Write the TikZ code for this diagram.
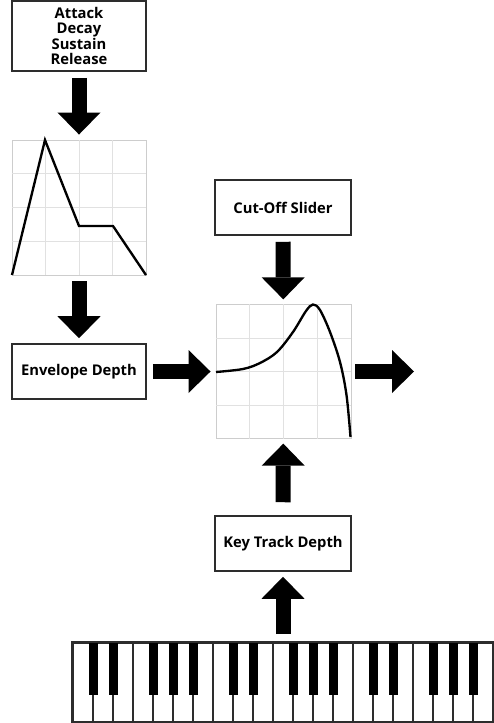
\documentclass[tikz,border=0pt]{standalone}
\usepackage{fontspec}
\setmainfont{Open Sans}
\usetikzlibrary{arrows.meta,calc}
\definecolor{pline}{RGB}{45,45,45}
\definecolor{pframe}{RGB}{205,205,205}
\definecolor{pgrid}{RGB}{225,225,225}
\tikzset{
  box/.style={rectangle,draw=pline,line width=1.3pt,fill=white,
              minimum width=4.02cm,minimum height=1.65cm,inner sep=0pt,
              font=\fontsize{12.6}{13}\selectfont\bfseries,align=center},
  plot/.style={rectangle,draw=pframe,line width=0.8pt,inner sep=0pt,
               minimum width=4.02cm,minimum height=4.05cm},
  gridline/.style={pgrid,line width=0.7pt},
  curve/.style={black,line width=2pt},
  flow/.style={line width=4.5mm,
               -{Triangle[length=6.6mm,width=12.9mm,line width=0pt]},
               shorten <=1.8mm,shorten >=1.5mm},
  keyline/.style={pline,line width=1pt},
}

\begin{document}
\begin{tikzpicture}[x=0.03cm,y=-0.03cm]
  \useasboundingbox (0,0) rectangle (493,723);
  % left column: envelope
  \node[box,minimum height=2.1cm] (adsr) at (79,36) {Attack\\Decay\\Sustain\\Release};
  \node[plot] (env) at (79,207.5) {};
  \node[box] (envd) at (79,371.5) {Envelope Depth};
  % middle column: filter
  \node[box,minimum width=4.08cm] (cut) at (283,207.5) {Cut-Off Slider};
  \node[plot,minimum width=4.05cm,minimum height=4cm] (filt) at (283.5,371.5) {};
  \node[box,minimum width=4.08cm] (key) at (283,543.5) {Key Track Depth};
  \node[rectangle,draw=pline,line width=1.3pt,inner sep=0pt,
        minimum width=12.6cm,minimum height=2.37cm] (keys) at (283,682.5) {};
  \coordinate (out) at (414,371.5);
  % grids inside both plots
  \foreach \p in {env,filt} {
    \foreach \f in {0.25,0.5,0.75} {
      \draw[gridline] ($(\p.south west)!\f!(\p.south east)$) -- ($(\p.north west)!\f!(\p.north east)$);
      \draw[gridline] ($(\p.south west)!\f!(\p.north west)$) -- ($(\p.south east)!\f!(\p.north east)$);
    }
  }
  % ADSR shape
  \draw[curve] (12,275) -- (45,140) -- (79,226) -- (113,226) -- (146,275);
  % filter response
  \draw[curve] plot[smooth,tension=0.55] coordinates {
    (216,372) (243,369) (260,363) (277,352) (293,332) (306,311) (313,304.5)
    (320,310) (330,332) (340,362) (346.5,395) (350.5,437)};
  % keyboard
  \foreach \i in {1,...,20}
    \draw[keyline] (73+20*\i,643) -- (73+20*\i,722);
  \foreach \i in {1,2,4,5,6,8,9,11,12,13,15,16,18,19,20}
    \fill[black] (73+20*\i-4.5,643) rectangle ++(9,52);
  \draw[pline,line width=1.3pt] (keys.south west) rectangle (keys.north east);
  % block arrows
  \draw[flow] (adsr) -- (env);
  \draw[flow] (env) -- (envd);
  \draw[flow] (envd) -- (filt);
  \draw[flow] (cut) -- (filt);
  \draw[flow,shorten <=3.9mm] (key) -- (filt);
  \draw[flow,shorten <=2.4mm] (keys) -- (key);
  \draw[flow,shorten <=1.2mm,shorten >=0pt] (filt) -- (out);
\end{tikzpicture}
\end{document}
